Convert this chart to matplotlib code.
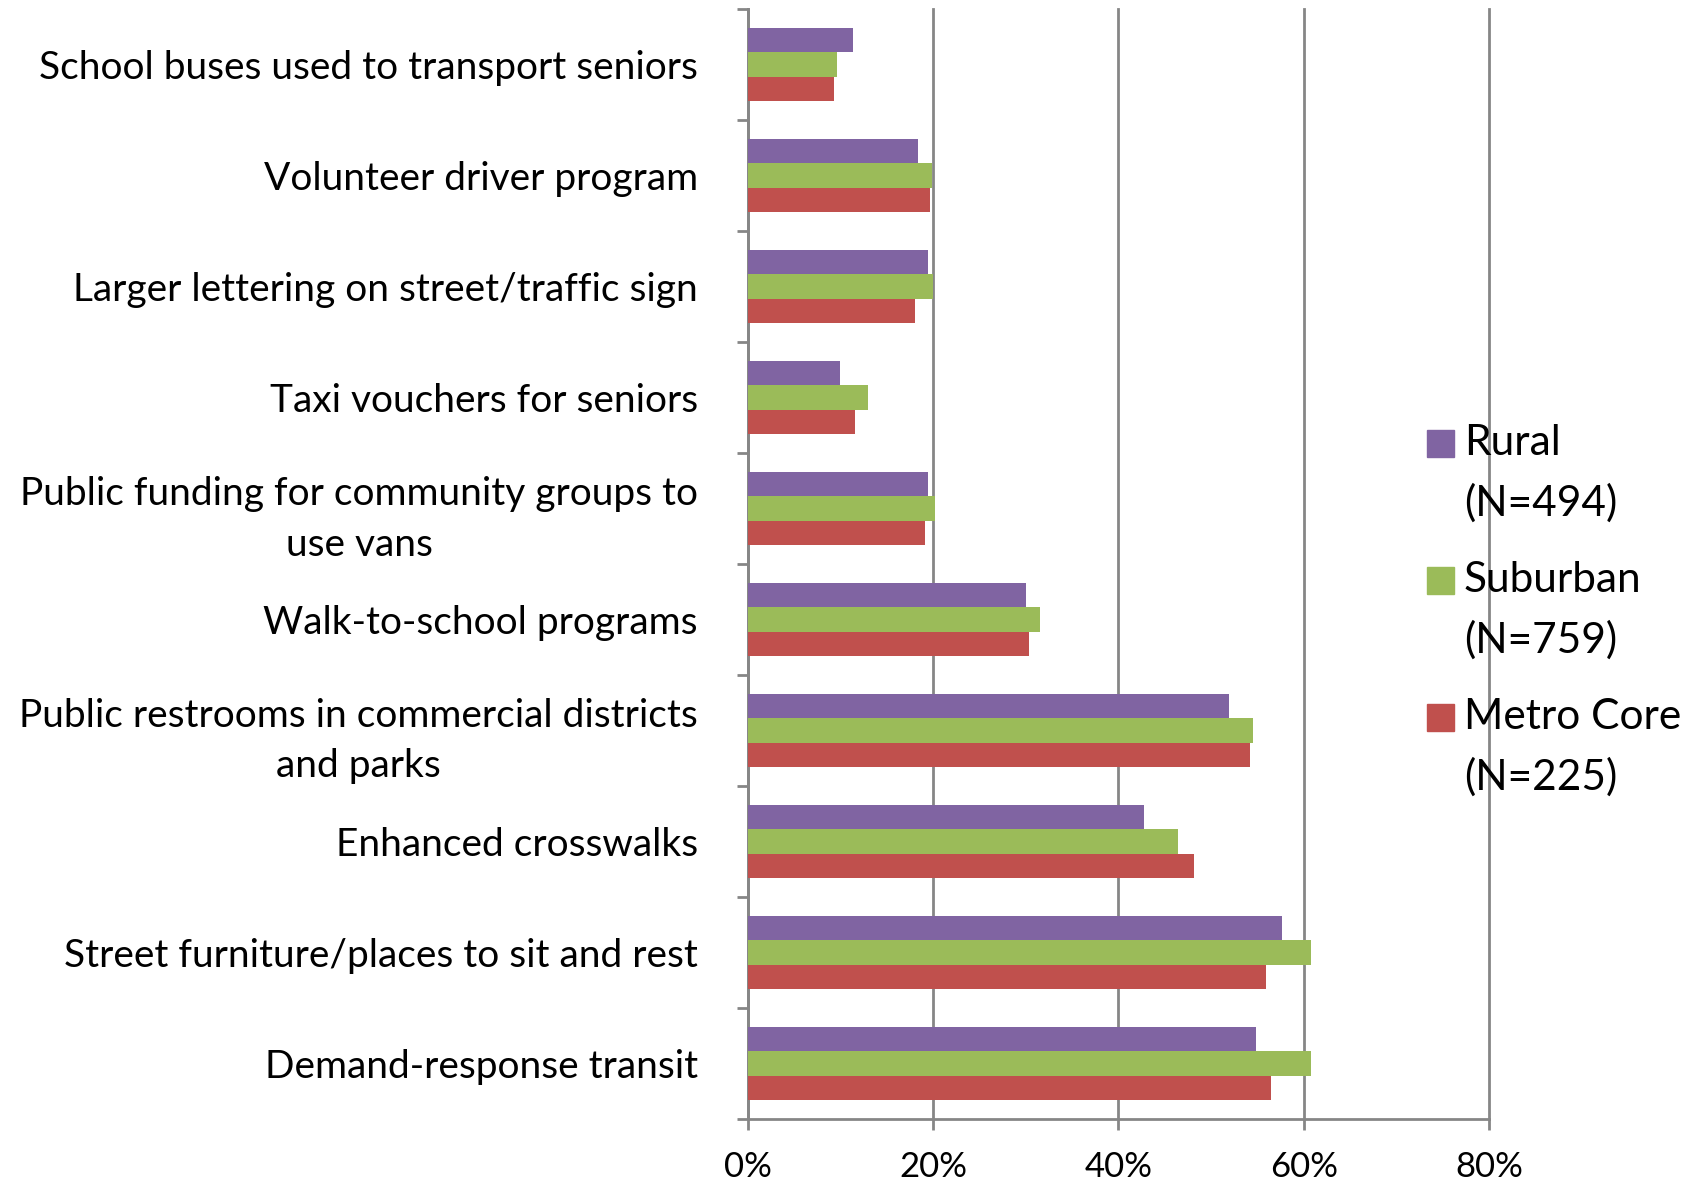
import numpy as np
import matplotlib.pyplot as plt
import matplotlib.ticker as mticker
from matplotlib.patches import Rectangle

# categories listed top to bottom, values in percent
categories = [
    "School buses used to transport seniors",
    "Volunteer driver program",
    "Larger lettering on street/traffic sign",
    "Taxi vouchers for seniors",
    "Public funding for community groups to\nuse vans",
    "Walk-to-school programs",
    "Public restrooms in commercial districts\nand parks",
    "Enhanced crosswalks",
    "Street furniture/places to sit and rest",
    "Demand-response transit",
]
rural = [11.3, 18.3, 19.4, 9.9, 19.4, 30.0, 51.9, 42.7, 57.6, 54.8]
suburban = [9.6, 19.9, 20.0, 13.0, 20.2, 31.5, 54.5, 46.4, 60.8, 60.8]
metro = [9.3, 19.7, 18.0, 11.6, 19.1, 30.3, 54.2, 48.1, 55.9, 56.5]

series_names = ["Rural", "Suburban", "Metro Core"]
series_n = ["(N=494)", "(N=759)", "(N=225)"]
colors = ["#8064A2", "#9BBB59", "#C0504D"]
x_ticks = [0, 20, 40, 60, 80]

GRID = "#868686"
W, H = 1708, 1182

plt.rcParams["font.family"] = ["Lato", "DejaVu Sans"]

fig = plt.figure(figsize=(W / 100, H / 100), dpi=100)
ax = fig.add_axes([748 / W, 1 - 1119 / H, (1489 - 748) / W, (1119 - 9) / H])

y = np.arange(len(categories))
h = 0.217
for i, (vals, c) in enumerate(zip([rural, suburban, metro], colors)):
    ax.barh(y + (i - 1) * h, vals, height=h, color=c, zorder=3)

ax.set_xlim(0, 80)
ax.set_ylim(len(categories) - 0.5, -0.5)

# x axis
ax.set_xticks(x_ticks)
ax.xaxis.set_major_formatter(mticker.FormatStrFormatter('%d%%'))
ax.tick_params(axis="x", direction="out", length=8, width=2, color=GRID,
               labelsize=25, pad=15)
ax.grid(axis="x", color=GRID, linewidth=2, zorder=0)
ax.set_axisbelow(True)
for gl in ax.get_xgridlines():
    gl.set_clip_on(False)   # keep the 80% line at full width

# y axis: ticks on boundaries, labels at centres
ax.set_yticks(np.arange(-0.5, len(categories), 1))
ax.set_yticklabels([])
ax.set_yticks(y, minor=True)
ax.set_yticklabels(categories, minor=True, fontsize=28, multialignment="center",
                   linespacing=1.5)
ax.tick_params(axis="y", which="major", direction="out", length=8, width=2, color=GRID)
ax.tick_params(axis="y", which="minor", length=0, pad=36)

for s in ["top", "right"]:
    ax.spines[s].set_visible(False)
for s in ["left", "bottom"]:
    ax.spines[s].set_color(GRID)
    ax.spines[s].set_linewidth(2)

# legend drawn by hand so the swatch sits on the first line
for i, (name, n, c) in enumerate(zip(series_names, series_n, colors)):
    yc = 443 + i * 137
    fig.add_artist(Rectangle((1427 / W, 1 - (yc + 13.5) / H), 27 / W, 27 / H,
                             transform=fig.transFigure, color=c))
    fig.text(1464 / W, 1 - yc / H, name, fontsize=30.5, va="center", ha="left")
    fig.text(1464 / W, 1 - (yc + 60) / H, n, fontsize=30.5, va="center", ha="left")

fig.savefig("out.png", dpi=100)
